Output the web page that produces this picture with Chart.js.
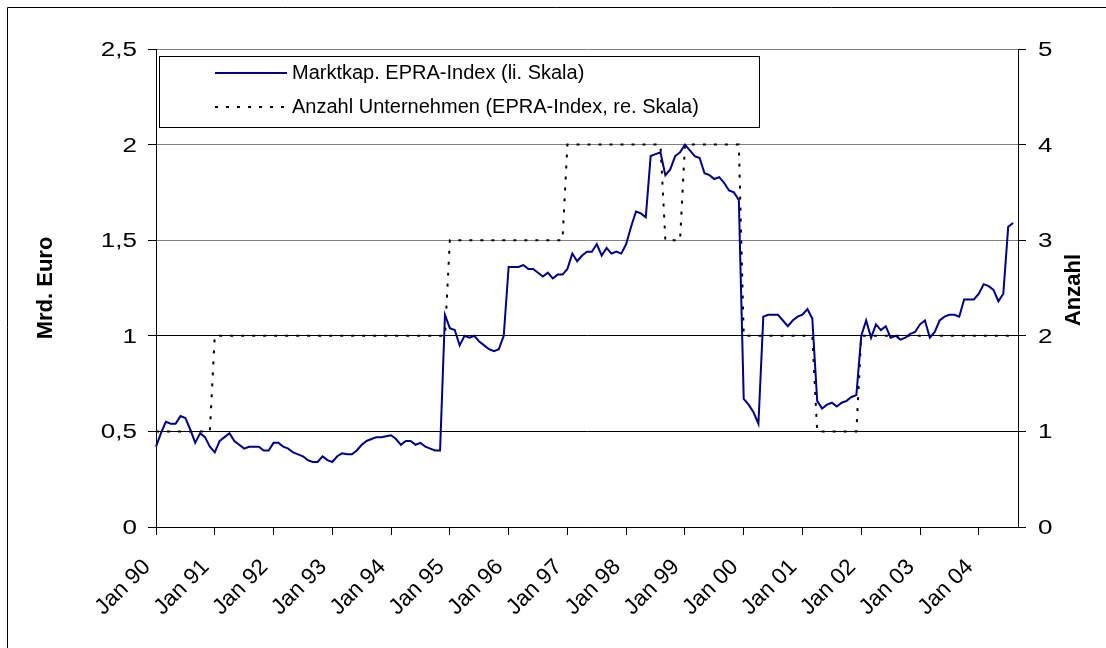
<!DOCTYPE html>
<html>
<head>
<meta charset="utf-8">
<script src="https://cdn.jsdelivr.net/npm/chart.js"></script>
<style>
  html, body { margin: 0; padding: 0; background: #fff; }
  canvas { display: block; }
</style>
</head>
<body>
<canvas id="epraChart" width="1106" height="648"></canvas>
<script>
// Monthly data, Jan 90 .. Aug 04 (axis runs one month further)
const years = ['90', '91', '92', '93', '94', '95', '96', '97', '98', '99', '00', '01', '02', '03', '04'];
const monthNames = ['Jan', 'Feb', 'Mrz', 'Apr', 'Mai', 'Jun', 'Jul', 'Aug', 'Sep', 'Okt', 'Nov', 'Dez'];
const monthCount = 177;

// Marktkapitalisierung EPRA-Index, Mrd. Euro (left scale)
const marketCap = [
  0.42, 0.49, 0.55, 0.54, 0.54, 0.58, 0.57, 0.51, 0.44, 0.49, 0.47, 0.42,
  0.39, 0.45, 0.47, 0.49, 0.45, 0.43, 0.41, 0.42, 0.42, 0.42, 0.40, 0.40,
  0.44, 0.44, 0.42, 0.41, 0.39, 0.38, 0.37, 0.35, 0.34, 0.34, 0.37, 0.35,
  0.34, 0.37, 0.385, 0.38, 0.38, 0.40, 0.43, 0.45, 0.46, 0.47, 0.47, 0.475,
  0.48, 0.46, 0.43, 0.45, 0.45, 0.43, 0.44, 0.42, 0.41, 0.40, 0.40, 1.11,
  1.04, 1.03, 0.95, 1.00, 0.99, 1.00, 0.97, 0.95, 0.93, 0.92, 0.93, 1.00,
  1.36, 1.36, 1.36, 1.37, 1.35, 1.35, 1.33, 1.31, 1.33, 1.30, 1.32, 1.32,
  1.35, 1.43, 1.39, 1.42, 1.44, 1.44, 1.48, 1.42, 1.46, 1.43, 1.44, 1.43,
  1.48, 1.57, 1.65, 1.64, 1.62, 1.94, 1.95, 1.96, 1.84, 1.87, 1.94, 1.96,
  2.00, 1.97, 1.94, 1.93, 1.85, 1.84, 1.82, 1.83, 1.80, 1.76, 1.75, 1.71,
  0.67, 0.64, 0.60, 0.54, 1.10, 1.11, 1.11, 1.11, 1.08, 1.05, 1.08, 1.10,
  1.11, 1.14, 1.09, 0.66, 0.62, 0.64, 0.65, 0.63, 0.65, 0.66, 0.68, 0.69,
  1.00, 1.08, 0.99, 1.06, 1.03, 1.05, 0.99, 1.00, 0.98, 0.99, 1.01, 1.02,
  1.06, 1.08, 0.99, 1.02, 1.08, 1.10, 1.11, 1.11, 1.10, 1.19, 1.19, 1.19,
  1.22, 1.27, 1.26, 1.24, 1.18, 1.22, 1.57, 1.59
];

// Anzahl Unternehmen im EPRA-Index (right scale)
const companies = [
  1, 1, 1, 1, 1, 1, 1, 1, 1, 1, 1, 1,
  2, 2, 2, 2, 2, 2, 2, 2, 2, 2, 2, 2,
  2, 2, 2, 2, 2, 2, 2, 2, 2, 2, 2, 2,
  2, 2, 2, 2, 2, 2, 2, 2, 2, 2, 2, 2,
  2, 2, 2, 2, 2, 2, 2, 2, 2, 2, 2, 2,
  3, 3, 3, 3, 3, 3, 3, 3, 3, 3, 3, 3,
  3, 3, 3, 3, 3, 3, 3, 3, 3, 3, 3, 3,
  4, 4, 4, 4, 4, 4, 4, 4, 4, 4, 4, 4,
  4, 4, 4, 4, 4, 4, 4, 4, 3, 3, 3, 3,
  4, 4, 4, 4, 4, 4, 4, 4, 4, 4, 4, 4,
  2, 2, 2, 2, 2, 2, 2, 2, 2, 2, 2, 2,
  2, 2, 2, 1, 1, 1, 1, 1, 1, 1, 1, 1,
  2, 2, 2, 2, 2, 2, 2, 2, 2, 2, 2, 2,
  2, 2, 2, 2, 2, 2, 2, 2, 2, 2, 2, 2,
  2, 2, 2, 2, 2, 2, 2, 2
];

const categories = [];
years.forEach((y) => monthNames.forEach((m) => {
  if (categories.length < monthCount) categories.push(m + ' ' + y);
}));

const FONT = '"Liberation Sans", Arial, sans-serif';
const deNum = (v) => String(v).replace('.', ',');

// white background + the visible part of the outer frame
const framePlugin = {
  id: 'frame',
  beforeDraw(chart) {
    const c = chart.ctx;
    c.save();
    c.fillStyle = '#fff';
    c.fillRect(0, 0, chart.width, chart.height);
    c.strokeStyle = '#000';
    c.lineWidth = 1;
    c.beginPath();
    c.moveTo(7.5, chart.height);
    c.lineTo(7.5, 7.5);
    c.lineTo(chart.width, 7.5);
    c.stroke();
    c.restore();
  }
};

// y tick labels (a bit wide, like the original) and the right axis title
const axisTextPlugin = {
  id: 'axisText',
  afterDraw(chart) {
    const c = chart.ctx;
    const area = chart.chartArea;
    const drawLabels = (scale, x, align) => {
      scale.ticks.forEach((t) => {
        const py = scale.getPixelForValue(t.value);
        c.save();
        c.translate(x, py + 7);
        c.scale(1.3, 1);
        c.textAlign = align;
        c.fillText(deNum(t.value), 0, 0);
        c.restore();
      });
    };
    c.save();
    c.fillStyle = '#000';
    c.font = '20px ' + FONT;
    c.textBaseline = 'alphabetic';
    drawLabels(chart.scales.y, area.left - 19, 'right');
    drawLabels(chart.scales.y1, area.right + 20, 'left');

    c.font = 'bold 22px ' + FONT;
    c.translate(area.right + 56, (area.top + area.bottom) / 2 + 2);
    c.rotate(-Math.PI / 2);
    c.textAlign = 'center';
    c.textBaseline = 'middle';
    c.fillText('Anzahl', 0, 0);
    c.restore();
  }
};

// legend box inside the plot area
const legendBoxPlugin = {
  id: 'legendBox',
  afterDraw(chart) {
    const c = chart.ctx;
    const rows = [73, 107];
    c.save();
    c.fillStyle = '#fff';
    c.fillRect(159.5, 56.5, 600, 71);
    c.strokeStyle = '#000';
    c.lineWidth = 1;
    c.strokeRect(159.5, 56.5, 600, 71);
    chart.data.datasets.forEach((d, i) => {
      c.beginPath();
      c.strokeStyle = d.borderColor;
      c.lineWidth = 2;
      c.setLineDash(d.borderDash || []);
      c.moveTo(215, rows[i]);
      c.lineTo(287, rows[i]);
      c.stroke();
      c.setLineDash([]);
      c.fillStyle = '#000';
      c.font = '20px ' + FONT;
      c.textBaseline = 'middle';
      c.textAlign = 'left';
      c.fillText(d.label, 292, rows[i]);
    });
    c.restore();
  }
};

new Chart(document.getElementById('epraChart'), {
  type: 'line',
  data: {
    labels: categories,
    datasets: [
      {
        label: 'Marktkap. EPRA-Index (li. Skala)',
        data: marketCap,
        yAxisID: 'y',
        borderColor: '#000080',
        borderWidth: 2,
        pointRadius: 0,
        tension: 0,
        fill: false
      },
      {
        label: 'Anzahl Unternehmen (EPRA-Index, re. Skala)',
        data: companies,
        yAxisID: 'y1',
        borderColor: '#000000',
        borderWidth: 2,
        borderDash: [3, 8],
        pointRadius: 0,
        tension: 0,
        fill: false
      }
    ]
  },
  options: {
    responsive: false,
    animation: false,
    locale: 'de-DE',
    layout: { padding: { top: 49, left: 0, right: 0, bottom: 0 } },
    plugins: {
      legend: { display: false },
      tooltip: { enabled: false }
    },
    scales: {
      x: {
        type: 'category',
        offset: false,
        afterFit: (s) => { s.height = 121; },
        grid: {
          drawOnChartArea: false,
          tickLength: 8,
          color: (ctx) => (ctx.index % 12 === 0 ? '#000' : 'rgba(0,0,0,0)')
        },
        border: { color: '#000', width: 1 },
        ticks: {
          autoSkip: false,
          minRotation: 45,
          maxRotation: 45,
          padding: 19,
          labelOffset: -9,
          color: '#000',
          font: { family: FONT, size: 22.5 },
          callback: (v, i) => (i % 12 === 0 ? categories[i] : '')
        }
      },
      y: {
        position: 'left',
        min: 0,
        max: 2.5,
        afterFit: (s) => { s.width = 156; },
        ticks: { stepSize: 0.5, display: false },
        grid: {
          tickLength: 8,
          tickColor: '#000',
          color: (ctx) => (ctx.tick && ctx.tick.value > 1 ? '#808080' : '#000')
        },
        border: { color: '#000', width: 1 },
        title: {
          display: true,
          text: 'Mrd. Euro',
          color: '#000',
          font: { family: FONT, size: 22, weight: 'bold' },
          padding: { top: 33, bottom: 0 }
        }
      },
      y1: {
        position: 'right',
        min: 0,
        max: 5,
        afterFit: (s) => { s.width = 88; },
        ticks: { stepSize: 1, display: false },
        grid: {
          drawOnChartArea: false,
          tickLength: 8,
          tickColor: '#000'
        },
        border: { color: '#000', width: 1 }
      }
    }
  },
  plugins: [framePlugin, axisTextPlugin, legendBoxPlugin]
});
</script>
</body>
</html>
